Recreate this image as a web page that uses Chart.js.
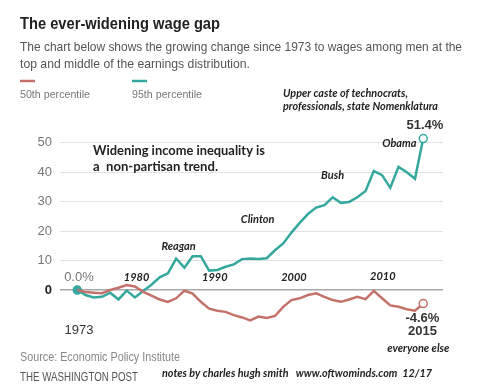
<!DOCTYPE html>
<html lang="en">
<head>
  <meta charset="UTF-8" />
  <title>The ever-widening wage gap</title>
  <script src="https://cdn.jsdelivr.net/npm/chart.js"></script>
  <style>
    body { margin: 0; background: #fff; }
    #wrap { position: relative; width: 500px; height: 391px; }
  </style>
</head>
<body>
  <div id="wrap"><canvas id="wageChart" width="500" height="391"></canvas></div>

  <script>
    // change in wages since 1973, percent
    const years = [1973, 1974, 1975, 1976, 1977, 1978, 1979, 1980, 1981, 1982,
                   1983, 1984, 1985, 1986, 1987, 1988, 1989, 1990, 1991, 1992,
                   1993, 1994, 1995, 1996, 1997, 1998, 1999, 2000, 2001, 2002,
                   2003, 2004, 2005, 2006, 2007, 2008, 2009, 2010, 2011, 2012,
                   2013, 2014, 2015];
    const p50 = [0, -0.7, -0.9, -1.1, 0, 0.8, 1.7, 1.2, -0.6, -1.9,
                 -3.2, -4, -2.8, -0.2, -1.2, -4, -6.3, -7, -7.4, -8.5,
                 -9.3, -10.3, -9, -9.5, -8.8, -5.7, -3.4, -2.8, -1.7, -1.1,
                 -2.3, -3.4, -4, -3.2, -2.3, -3.1, -0.3, -2.8, -5.2, -5.7,
                 -6.5, -7, -4.6];
    const p95 = [0, -1.7, -2.5, -2.3, -0.9, -3.2, -0.2, -2.5, -0.3, 1.8,
                 4.3, 5.7, 10.7, 7.6, 11.5, 11.5, 6.6, 6.8, 7.9, 8.7,
                 10.5, 10.7, 10.5, 10.8, 13.5, 15.8, 19.5, 22.8, 25.8, 28,
                 28.8, 31.5, 29.6, 29.9, 31.5, 33.6, 40.4, 39, 34.7, 41.8,
                 40, 37.8, 51.4];
    const yTicks = [0, 10, 20, 30, 40, 50];
    const decadeLabels = ['1980', '1990', '2000', '2010'];

    const RED = '#c4716a';
    const TEAL = '#34a89f';
    const SANS = '"Liberation Sans", Arial, sans-serif';
    const NOTE = 'Lato, "Open Sans", sans-serif';

    const last = years.length - 1;

    // labels tied to the data (x in years, y in percent)
    const chartNotes = [
      { t: 'Reagan', x: 1985.3, y: 14.9, f: 'italic bold 11px ' + NOTE, c: '#222' },
      { t: 'Clinton', x: 1994.9, y: 24.1, f: 'italic bold 11px ' + NOTE, c: '#222' },
      { t: 'Bush', x: 2004.0, y: 39.0, f: 'italic bold 11px ' + NOTE, c: '#222' },
      { t: 'Obama', x: 2012.1, y: 49.7, f: 'italic bold 11px ' + NOTE, c: '#222' },
      { t: '51.4%', x: 2015.2, y: 56.0, f: 'bold 13px ' + SANS, c: '#333' },
      { t: '-4.6%', x: 2014.9, y: -9.5, f: 'bold 13px ' + SANS, c: '#333' },
      { t: '2015', x: 2014.9, y: -14.0, f: 'bold 13px ' + SANS, c: '#333' },
      { t: 'everyone else', x: 2014.4, y: -19.7, f: 'italic bold 11px ' + NOTE, c: '#222' },
      { t: '0.0%', x: 1973.2, y: 4.3, f: '13px ' + SANS, c: '#777' },
      { t: '1973', x: 1973.2, y: -13.8, f: '13px ' + SANS, c: '#333' },
      { t: '1980', x: 1980.2, y: 4.3, f: 'italic bold 11px ' + NOTE, c: '#222' },
      { t: '1990', x: 1989.7, y: 4.3, f: 'italic bold 11px ' + NOTE, c: '#222' },
      { t: '2000', x: 1999.3, y: 4.3, f: 'italic bold 11px ' + NOTE, c: '#222' },
      { t: '2010', x: 2010.1, y: 4.5, f: 'italic bold 11px ' + NOTE, c: '#222' }
    ];

    // header / footer text, canvas pixels
    const pageText = [
      { t: 'The ever-widening wage gap', x: 20, y: 29, f: 'bold 17px ' + SANS, c: '#222', w: 200 },
      { t: 'The chart below shows the growing change since 1973 to wages among men at the', x: 20, y: 51, f: '13px ' + SANS, c: '#555', w: 442 },
      { t: 'top and middle of the earnings distribution.', x: 20, y: 68, f: '13px ' + SANS, c: '#555', w: 230 },
      { t: '50th percentile', x: 20, y: 98, f: '11.5px ' + SANS, c: '#777', w: 70 },
      { t: '95th percentile', x: 132, y: 98, f: '11.5px ' + SANS, c: '#777', w: 70 },
      { t: 'Upper caste of technocrats,', x: 283, y: 97, f: 'italic bold 11px ' + NOTE, c: '#222', w: 125 },
      { t: 'professionals, state Nomenklatura', x: 283, y: 110, f: 'italic bold 11px ' + NOTE, c: '#222', w: 155 },
      { t: 'Widening income inequality is', x: 93, y: 155, f: 'bold 14px ' + NOTE, c: '#222', w: 172 },
      { t: 'a  non-partisan trend.', x: 93, y: 171, f: 'bold 14px ' + NOTE, c: '#222', w: 125 },
      { t: 'Source: Economic Policy Institute', x: 20, y: 361, f: '12px ' + SANS, c: '#888', w: 160 },
      { t: 'THE WASHINGTON POST', x: 20, y: 381, f: '12px ' + SANS, c: '#555', w: 118 },
      { t: 'notes by charles hugh smith   www.oftwominds.com  12/17', x: 162, y: 377, f: 'italic bold 11px ' + NOTE, c: '#222', w: 270 }
    ];

    const textPlugin = {
      id: 'textPlugin',
      afterDraw(chart) {
        const ctx = chart.ctx;
        const xs = chart.scales.x, ys = chart.scales.y;
        ctx.save();
        ctx.textBaseline = 'middle';
        ctx.textAlign = 'center';
        chartNotes.forEach(n => {
          ctx.font = n.f;
          ctx.fillStyle = n.c;
          ctx.fillText(n.t, xs.getPixelForValue(n.x), ys.getPixelForValue(n.y));
        });
        ctx.textBaseline = 'alphabetic';
        ctx.textAlign = 'left';
        pageText.forEach(n => {
          ctx.font = n.f;
          ctx.fillStyle = n.c;
          ctx.fillText(n.t, n.x, n.y, n.w);
        });
        // legend swatches
        ctx.lineWidth = 2.5;
        ctx.strokeStyle = RED;
        ctx.beginPath(); ctx.moveTo(20, 81); ctx.lineTo(35, 81); ctx.stroke();
        ctx.strokeStyle = TEAL;
        ctx.beginPath(); ctx.moveTo(132, 81); ctx.lineTo(147, 81); ctx.stroke();
        ctx.restore();
      }
    };

    const endPoint = (first, lastR) => ctx =>
      ctx.dataIndex === 0 ? first : (ctx.dataIndex === last ? lastR : 0);

    new Chart(document.getElementById('wageChart'), {
      type: 'line',
      data: {
        datasets: [
          {
            label: '95th percentile',
            data: years.map((yr, i) => ({ x: yr, y: p95[i] })),
            borderColor: TEAL,
            borderWidth: 2.5,
            pointRadius: endPoint(4, 4),
            pointBackgroundColor: ctx => ctx.dataIndex === 0 ? TEAL : '#fff',
            pointBorderColor: TEAL,
            pointBorderWidth: 1.5,
            tension: 0,
            order: 2
          },
          {
            label: '50th percentile',
            data: years.map((yr, i) => ({ x: yr, y: p50[i] })),
            borderColor: RED,
            borderWidth: 2.5,
            pointRadius: endPoint(0, 4),
            pointBackgroundColor: '#fff',
            pointBorderColor: RED,
            pointBorderWidth: 1.5,
            tension: 0,
            order: 1
          }
        ]
      },
      options: {
        responsive: false,
        animation: false,
        clip: false,
        layout: { padding: { left: 0, right: 57, top: 128, bottom: 65.6 } },
        plugins: { legend: { display: false }, tooltip: { enabled: false } },
        scales: {
          x: { type: 'linear', min: 1970.9, max: 2017.4, display: false },
          y: {
            min: -12, max: 55,
            afterBuildTicks: s => { s.ticks = yTicks.map(v => ({ value: v })); },
            afterFit: s => { s.width = 60; },
            border: { display: false },
            grid: {
              drawTicks: false,
              color: c => c.tick.value === 0 ? '#a8a8a8' : '#e2e2e2',
              lineWidth: c => c.tick.value === 0 ? 1.5 : 1
            },
            ticks: {
              padding: 8,
              font: c => ({ family: SANS, size: 13, weight: c.tick && c.tick.value === 0 ? 'bold' : 'normal' }),
              color: c => c.tick && c.tick.value === 0 ? '#222' : '#777'
            }
          }
        }
      },
      plugins: [textPlugin]
    });
  </script>
</body>
</html>
